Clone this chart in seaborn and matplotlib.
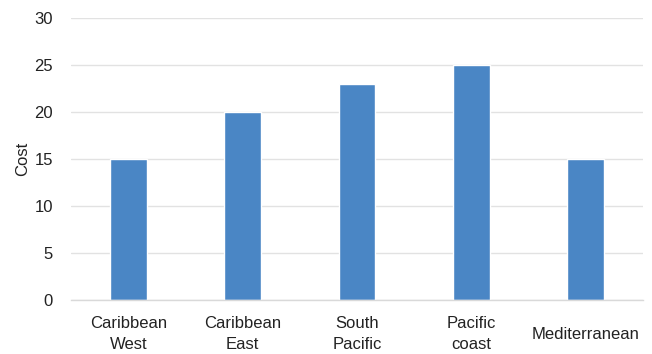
import matplotlib
matplotlib.use("Agg")
import matplotlib.pyplot as plt
import seaborn as sns
import pandas as pd

# Data
regions = ["Caribbean\nWest", "Caribbean\nEast", "South\nPacific", "Pacific\ncoast", "Mediterranean"]
cost = [15, 20, 23, 25, 15]
y_ticks = [0, 5, 10, 15, 20, 25, 30]

df = pd.DataFrame({"region": regions, "cost": cost})

sns.set_theme(style="white")
plt.rcParams['font.family'] = ['Liberation Sans', 'DejaVu Sans']

fig = plt.figure(figsize=(6.52, 3.54), dpi=100)
ax = fig.add_axes([0.109, 0.1525, 0.877, 0.7965])

sns.barplot(data=df, x="region", y="cost", color="#4a86c5", saturation=1,
            width=0.32, ax=ax)

ax.set_ylim(0, 30)
ax.set_yticks(y_ticks)
ax.set_xlim(-0.5, len(regions) - 0.5)
ax.yaxis.grid(True, color="#e2e2e2", linewidth=1)
ax.set_axisbelow(True)
for s in ["top", "right", "left"]:
    ax.spines[s].set_visible(False)
ax.spines["bottom"].set_color("#d9d9d9")
ax.spines["bottom"].set_linewidth(1)

ax.tick_params(axis="y", length=0, pad=13, labelsize=12, colors="#222222")
ax.tick_params(axis="x", length=0, pad=24.5, labelsize=12, colors="#222222")
for lbl in ax.get_xticklabels():
    lbl.set_verticalalignment("center")
    lbl.set_linespacing(1.55)

ax.set_xlabel("")
ax.set_ylabel("Cost", fontsize=12, color="#222222", labelpad=3)

fig.savefig("out.png", dpi=100)
